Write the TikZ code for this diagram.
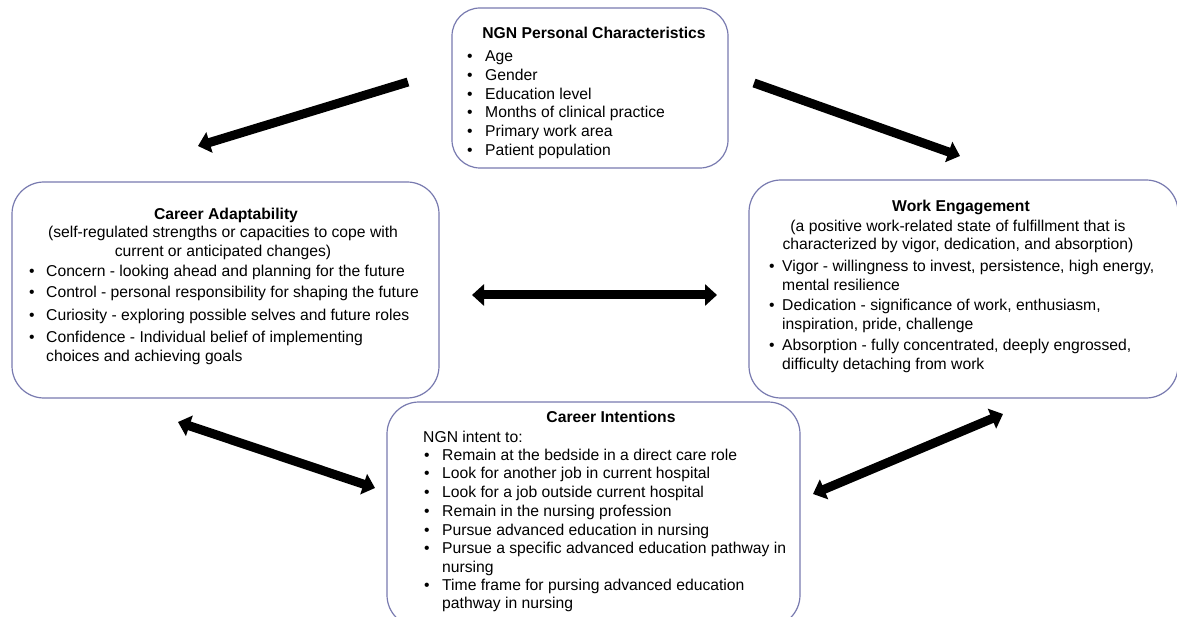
\documentclass[tikz,border=0pt]{standalone}
\usepackage{fontspec}
\setmainfont{Liberation Sans}
\usetikzlibrary{arrows.meta}
\definecolor{boxc}{RGB}{120,122,175}
\newcommand{\mybul}[1]{\makebox[#1][l]{\textbullet}}
\begin{document}
\begin{tikzpicture}[x=1pt,y=-1pt,
  box/.style={draw=boxc,line width=1.2pt,rounded corners=32pt,inner sep=0pt},
  txt/.style={inner sep=0pt,anchor=base west,font=\fontsize{15.7}{19}\selectfont},
  ctxt/.style={inner sep=0pt,anchor=base,font=\fontsize{15.7}{19}\selectfont},
  ttl/.style={ctxt,font=\fontsize{15.7}{19}\selectfont\bfseries},
  onearrow/.style={line width=9pt,-{Triangle[width=21pt,length=12pt]}},
  twoarrow/.style={line width=9pt,{Triangle[width=21pt,length=12pt]}-{Triangle[width=21pt,length=12pt]}}]
\useasboundingbox (0,0) rectangle (1177,617);
% boxes
\node[box,minimum width=276pt,minimum height=160pt,rounded corners=28pt] (pc) at (590,88) {};
\node[box,minimum width=427pt,minimum height=216pt] (ca) at (225.5,290) {};
\node[box,minimum width=429pt,minimum height=218pt] (we) at (963.5,289) {};
\node[box,minimum width=413pt,minimum height=225pt] (ci) at (593.5,514.5) {};
% top box text
\node[ttl] (pct) at (594,39) {NGN Personal Characteristics};
\node[txt] (pc1) at (467,62) {\mybul{18pt}Age};
\node[txt] (pc2) at (467,81) {\mybul{18pt}Gender};
\node[txt] (pc3) at (467,100) {\mybul{18pt}Education level};
\node[txt] (pc4) at (467,118) {\mybul{18pt}Months of clinical practice};
\node[txt] (pc5) at (467,137) {\mybul{18pt}Primary work area};
\node[txt] (pc6) at (467,156) {\mybul{18pt}Patient population};
% left box text
\node[ttl] (cat) at (226,220) {Career Adaptability};
\node[ctxt] (cas1) at (223,238) {(self-regulated strengths or capacities to cope with};
\node[ctxt] (cas2) at (223,257) {current or anticipated changes)};
\node[txt] (ca1) at (29,277) {\mybul{17pt}Concern - looking ahead and planning for the future};
\node[txt] (ca2) at (29,298) {\mybul{17pt}Control - personal responsibility for shaping the future};
\node[txt] (ca3) at (29,320) {\mybul{17pt}Curiosity - exploring possible selves and future roles};
\node[txt] (ca4) at (29,342) {\mybul{17pt}Confidence - Individual belief of implementing};
\node[txt] (ca4b) at (46,361) {choices and achieving goals};
% right box text
\node[ttl] (wet) at (961,212) {Work Engagement};
\node[ctxt] (wes1) at (958,232) {(a positive work-related state of fulfillment that is};
\node[ctxt] (wes2) at (958,250) {characterized by vigor, dedication, and absorption)};
\node[txt] (we1) at (769,272) {\mybul{13pt}Vigor - willingness to invest, persistence, high energy,};
\node[txt] (we1b) at (782,291) {mental resilience};
\node[txt] (we2) at (769,311) {\mybul{13pt}Dedication - significance of work, enthusiasm,};
\node[txt] (we2b) at (782,330) {inspiration, pride, challenge};
\node[txt] (we3) at (769,350) {\mybul{13pt}Absorption - fully concentrated, deeply engrossed,};
\node[txt] (we3b) at (782,369) {difficulty detaching from work};
% bottom box text
\node[ttl] (cit) at (611,422) {Career Intentions};
\node[txt] (ci0) at (423,442) {NGN intent to:};
\node[txt] (ci1) at (424,460) {\mybul{18pt}Remain at the bedside in a direct care role};
\node[txt] (ci2) at (424,478) {\mybul{18pt}Look for another job in current hospital};
\node[txt] (ci3) at (424,497) {\mybul{18pt}Look for a job outside current hospital};
\node[txt] (ci4) at (424,516) {\mybul{18pt}Remain in the nursing profession};
\node[txt] (ci5) at (424,535) {\mybul{18pt}Pursue advanced education in nursing};
\node[txt] (ci6) at (424,553) {\mybul{18pt}Pursue a specific advanced education pathway in};
\node[txt] (ci6b) at (442,572) {nursing};
\node[txt] (ci7) at (424,590) {\mybul{18pt}Time frame for pursing advanced education};
\node[txt] (ci7b) at (442,608) {pathway in nursing};
% arrow end points
\coordinate (a1s) at (408,82);
\coordinate (a1e) at (198,146);
\coordinate (a2s) at (754,83);
\coordinate (a2e) at (960,156);
\coordinate (a3s) at (472,295);
\coordinate (a3e) at (717,295);
\coordinate (a4s) at (178,422);
\coordinate (a4e) at (375,488);
\coordinate (a5s) at (813,494);
\coordinate (a5e) at (1003,414);
\draw[onearrow] (a1s) -- (a1e);
\draw[onearrow] (a2s) -- (a2e);
\draw[twoarrow] (a3s) -- (a3e);
\draw[twoarrow] (a4s) -- (a4e);
\draw[twoarrow] (a5s) -- (a5e);
\end{tikzpicture}
\end{document}
